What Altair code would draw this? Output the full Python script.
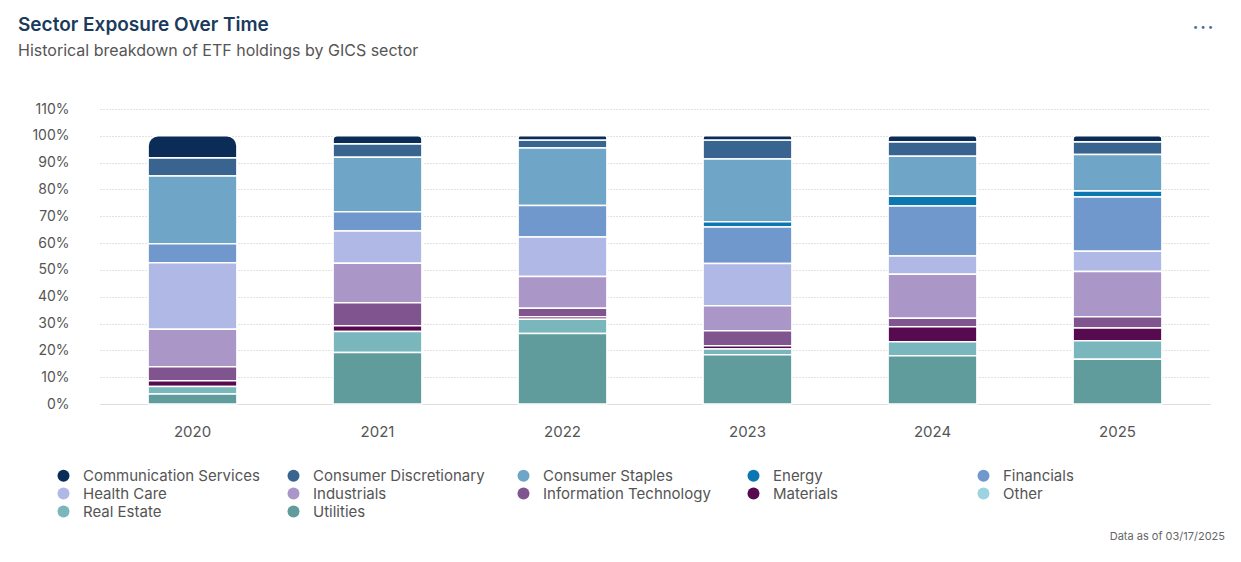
import altair as alt
import pandas as pd

years = ["2020", "2021", "2022", "2023", "2024", "2025"]

# legend order
sectors = [
    "Communication Services", "Consumer Discretionary", "Consumer Staples", "Energy", "Financials",
    "Health Care", "Industrials", "Information Technology", "Materials", "Other",
    "Real Estate", "Utilities",
]
colors = [
    "#0a2c57", "#38648f", "#6fa5c6", "#0b77b1", "#7198cc",
    "#b0b9e6", "#ab97c7", "#80558f", "#580a51", "#9dd3e0",
    "#79b7bc", "#609c9c",
]

communication_services = [8.2, 3.0, 1.6, 1.6, 2.2, 2.2]
consumer_discretionary = [6.8, 5.0, 2.9, 7.0, 5.4, 4.8]
consumer_staples = [25.2, 20.3, 21.5, 23.4, 14.9, 13.6]
energy = [0.0, 0.0, 0.0, 2.0, 3.7, 2.2]
financials = [7.1, 7.2, 11.7, 13.6, 18.6, 20.2]
health_care = [24.8, 12.0, 14.8, 15.8, 6.8, 7.6]
industrials = [14.0, 14.7, 11.8, 9.3, 16.4, 16.9]
information_technology = [5.2, 8.6, 3.2, 5.6, 3.2, 4.2]
materials = [2.2, 2.2, 0.9, 1.2, 5.6, 4.7]
other = [0.0, 0.0, 0.0, 0.0, 0.0, 0.0]
real_estate = [2.8, 7.8, 5.3, 2.1, 5.2, 6.9]
utilities = [3.7, 19.2, 26.3, 18.4, 18.0, 16.7]

series = [
    communication_services, consumer_discretionary, consumer_staples, energy, financials,
    health_care, industrials, information_technology, materials, other,
    real_estate, utilities,
]

y_ticks = list(range(0, 111, 10))

title_text = "Sector Exposure Over Time"
subtitle_text = "Historical breakdown of ETF holdings by GICS sector"
footer_text = "Data as of 03/17/2025"

rows = []
n = len(sectors)
for i, (s, vals) in enumerate(zip(sectors, series)):
    for y, v in zip(years, vals):
        rows.append({"year": y, "sector": s, "value": v, "order": n - 1 - i})
df = pd.DataFrame(rows)

W, H = 1110, 295
FONT = "Inter"

color = alt.Color(
    "sector:N",
    scale=alt.Scale(domain=sectors, range=colors),
    legend=alt.Legend(
        orient="none", legendX=-44, legendY=359, direction="horizontal",
        columns=5, title=None, symbolType="circle", symbolSize=144,
        labelFontSize=15, labelColor="#555555", labelFont=FONT, labelLimit=300,
        rowPadding=2, columnPadding=26, gridAlign="all", labelOffset=12,
        symbolStrokeWidth=0, symbolOpacity=1,
    ),
)

x = alt.X(
    "year:N", sort=years, title=None,
    scale=alt.Scale(paddingInner=0.52, paddingOuter=0.26),
    axis=alt.Axis(labelAngle=0, ticks=False, domainColor="#dddddd", labelPadding=20,
                  labelFontSize=15, labelColor="#555555", labelFont=FONT, grid=False),
)
y = alt.Y(
    "y0:Q", title=None,
    scale=alt.Scale(domain=[0, 110], nice=False),
    axis=alt.Axis(values=y_ticks, labelExpr="datum.value + '%'", domain=False, ticks=False,
                  grid=True, gridDash=[1, 2], gridColor="#c4c4c4", labelPadding=31,
                  labelFontSize=14, labelColor="#555555", labelFont=FONT),
)

base = alt.Chart(df).transform_stack(
    stack="value", groupby=["year"], sort=[alt.SortField("order", order="ascending")], as_=["y0", "y1"]
).transform_filter("datum.value > 0")

bars = base.transform_filter(f"datum.sector != '{sectors[0]}'").mark_bar(
    stroke="white", strokeWidth=1.5
).encode(x=x, y=y, y2="y1:Q", color=color)

top = base.transform_filter(f"datum.sector == '{sectors[0]}'").mark_bar(
    stroke="white", strokeWidth=1.5, cornerRadiusTopLeft=10, cornerRadiusTopRight=10
).encode(x=x, y=y, y2="y1:Q", color=color)

footer = alt.Chart(pd.DataFrame({"t": [footer_text]})).mark_text(
    align="right", baseline="middle", fontSize=11, color="#666666", font=FONT
).encode(text="t:N", x=alt.value(W + 15), y=alt.value(428))

menu = alt.Chart(pd.DataFrame({"t": ["• • •"]})).mark_text(
    align="center", baseline="middle", fontSize=9, color="#4a6d9c", font=FONT
).encode(text="t:N", x=alt.value(1103), y=alt.value(-82))

chart = alt.layer(bars, top, footer, menu).properties(
    width=W, height=H,
    view=alt.ViewBackground(stroke="transparent", strokeWidth=0),
    title=alt.TitleParams(
        text=title_text, subtitle=subtitle_text, anchor="start", frame="group",
        dx=-82, offset=-36, font=FONT, fontSize=19, fontWeight=600, color="#1b3a5c",
        subtitleFont=FONT, subtitleFontSize=16, subtitleColor="#555555", subtitlePadding=8,
    ),
    autosize=alt.AutoSizeParams(type="none"),
    padding={"left": 92, "top": 101, "right": 20, "bottom": 150},
).configure_view(stroke="transparent", strokeWidth=0).configure(background="white")

chart.save("out.html", embed_options={"renderer": "svg", "actions": False})
